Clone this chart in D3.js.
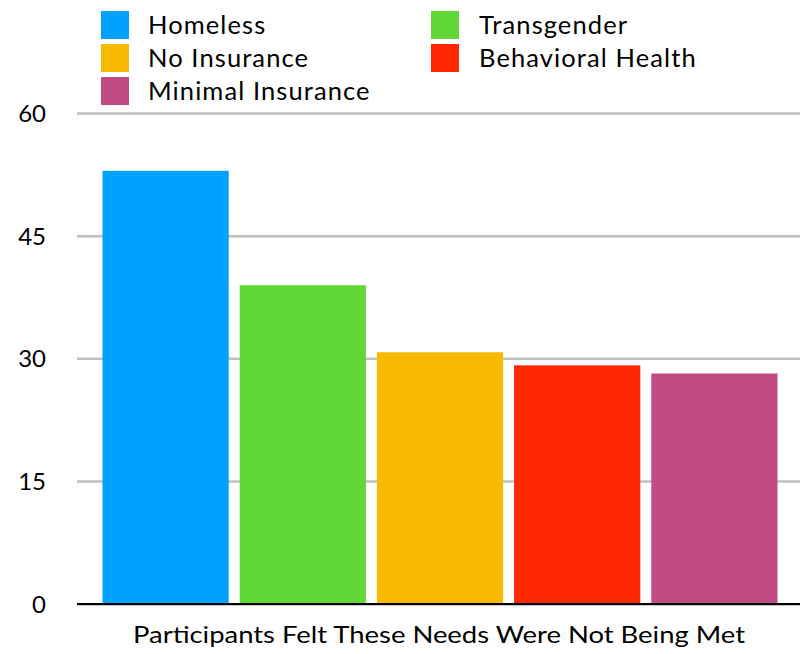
<!DOCTYPE html>
<html><head><meta charset="utf-8">
<script src="https://cdn.jsdelivr.net/npm/d3@7"></script>
<style>body{margin:0;background:#fff}svg{display:block}text{font-family:Lato,"Noto Sans",sans-serif;fill:#000}</style>
</head><body><svg id="c" width="800" height="654"></svg>
<script>
const categories = ["Homeless","Transgender","No Insurance","Behavioral Health","Minimal Insurance"];
const values = [53, 39, 30.8, 29.2, 28.2];
const colors = ["#00A2FF","#61D836","#F8BA00","#FF2600","#C24A85"];
const yTicks = [0, 15, 30, 45, 60];
const legendCol1 = ["Homeless","No Insurance","Minimal Insurance"];
const legendCol2 = ["Transgender","Behavioral Health"];
const xTitle = "Participants Felt These Needs Were Not Being Met";

const svg = d3.select("#c");
const y = d3.scaleLinear().domain([0,60]).range([604,113.6]);
const x = d3.scaleBand().domain(categories).range([80,800]).paddingInner(0.08).paddingOuter(0.164);
const color = d3.scaleOrdinal().domain(categories).range(colors);

// gridlines
svg.append("g").selectAll("line").data(yTicks.filter(d=>d>0)).join("line")
  .attr("x1",77).attr("x2",800).attr("y1",d=>y(d)).attr("y2",d=>y(d))
  .attr("stroke","#c0c0c0").attr("stroke-width",2.5);

// bars
svg.append("g").selectAll("rect").data(categories).join("rect")
  .attr("x",d=>x(d)).attr("width",x.bandwidth())
  .attr("y",(d,i)=>y(values[i])).attr("height",(d,i)=>y(0)-y(values[i]))
  .attr("fill",d=>color(d));

// baseline
svg.append("line").attr("x1",77).attr("x2",800).attr("y1",y(0)+1).attr("y2",y(0)+1)
  .attr("stroke","#c8c8c8").attr("stroke-width",2);
svg.append("line").attr("x1",77).attr("x2",800).attr("y1",y(0)).attr("y2",y(0))
  .attr("stroke","#000").attr("stroke-width",2);

// y tick labels
svg.append("g").selectAll("text").data(yTicks).join("text")
  .attr("x",46).attr("y",d=>y(d)+8.5).attr("text-anchor","end")
  .attr("font-size",24).text(d=>d);

// x title
svg.append("text").attr("x",439).attr("y",643).attr("text-anchor","middle")
  .attr("font-size",23).attr("textLength",612).attr("lengthAdjust","spacingAndGlyphs").text(xTitle);

// legend
function legend(items, sx, tx){
  const g = svg.append("g");
  items.forEach((name,i)=>{
    const top = 11 + i*33;
    g.append("rect").attr("x",sx).attr("y",top).attr("width",28).attr("height",28).attr("fill",color(name));
    g.append("text").attr("x",tx).attr("y",top+23).attr("font-size",25.5)
      .attr("letter-spacing",1.1).text(name);
  });
}
legend(legendCol1, 101, 148);
legend(legendCol2, 431, 479);
</script></body></html>
